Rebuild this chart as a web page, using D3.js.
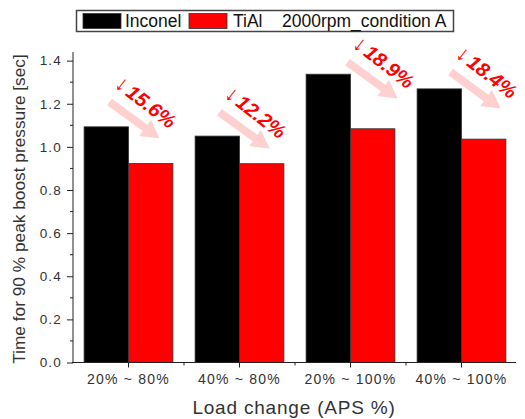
<!DOCTYPE html>
<html>
<head>
<meta charset="utf-8">
<script src="https://cdn.jsdelivr.net/npm/d3@7/dist/d3.min.js"></script>
<style>
  html, body { margin: 0; padding: 0; background: #fff; }
  svg { display: block; font-family: Arial, "Liberation Sans", sans-serif; }
</style>
</head>
<body>
<svg id="chart" width="525" height="419"></svg>
<script>
// Load-change cases on the x axis
const categories = ["20% ~ 80%", "40% ~ 80%", "20% ~ 100%", "40% ~ 100%"];
// Time to reach 90 % of peak boost pressure [sec]
const inconel = [1.093, 1.050, 1.337, 1.269];
const tial = [0.923, 0.922, 1.084, 1.036];
// Reduction of TiAl against Inconel, percent
const reductions = ["15.6%", "12.2%", "18.9%", "18.4%"];
const yTicks = [0.0, 0.2, 0.4, 0.6, 0.8, 1.0, 1.2, 1.4];
const seriesNames = ["Inconel", "TiAl"];
const legendNote = "2000rpm_condition A";

// Where each reduction callout sits: level on the y scale and shift from the group centre
const calloutLevel = [1.208, 1.161, 1.393, 1.347];
const calloutShift = [-19, -20, -3, -11];

const svg = d3.select("#chart");
const axisColor = "#222";
const textColor = "#333";

const x = d3.scaleBand().domain(categories).range([73, 517]).paddingInner(0.2).paddingOuter(0.1);
const y = d3.scaleLinear().domain([0, 1.44]).range([362.5, 52]);
const half = x.bandwidth() / 2;

// Bars
const groups = svg.append("g").selectAll("g").data(categories).join("g");
groups.append("rect")
  .attr("x", d => x(d))
  .attr("y", (d, i) => y(inconel[i]))
  .attr("width", half)
  .attr("height", (d, i) => y(0) - y(inconel[i]))
  .attr("fill", "#000").attr("stroke", "#333").attr("stroke-width", 0.8);
groups.append("rect")
  .attr("x", d => x(d) + half)
  .attr("y", (d, i) => y(tial[i]))
  .attr("width", half)
  .attr("height", (d, i) => y(0) - y(tial[i]))
  .attr("fill", "#ff0000").attr("stroke", "#333").attr("stroke-width", 0.8);

// Y axis with minor ticks
const yAxis = d3.axisLeft(y).tickValues(yTicks).tickFormat(d3.format(".1f")).tickSize(6).tickSizeOuter(0);
const yg = svg.append("g").attr("transform", "translate(73,0)").call(yAxis);
yg.select(".domain").attr("stroke", axisColor).attr("d", `M0,${y(0)}V${y.range()[1]}`);
yg.selectAll(".tick line").attr("stroke", axisColor);
yg.selectAll(".tick text").attr("fill", textColor).attr("font-size", 13.5).attr("letter-spacing", 1.2).attr("x", -11);
const yMinor = d3.range(0.1, 1.44, 0.2);
yg.selectAll(".minor").data(yMinor).join("line").attr("class", "minor")
  .attr("x1", -3).attr("x2", 0).attr("y1", d => y(d)).attr("y2", d => y(d)).attr("stroke", axisColor);

// X axis: major ticks at group centres, minor ticks between groups
const xg = svg.append("g").attr("transform", `translate(0,${y(0)})`);
xg.append("line").attr("x1", 72).attr("x2", 516).attr("stroke", axisColor);
xg.selectAll(".major").data(categories).join("line").attr("class", "major")
  .attr("x1", d => x(d) + half).attr("x2", d => x(d) + half).attr("y1", 0).attr("y2", 5).attr("stroke", axisColor);
xg.selectAll(".minorx").data(categories.slice(1)).join("line").attr("class", "minorx")
  .attr("x1", d => x(d) - x.step() * x.paddingInner() / 2).attr("x2", d => x(d) - x.step() * x.paddingInner() / 2)
  .attr("y1", 0).attr("y2", 3).attr("stroke", axisColor);
xg.selectAll(".lab").data(categories).join("text").attr("class", "lab")
  .attr("x", d => x(d) + half).attr("y", 21)
  .attr("text-anchor", "middle").attr("font-size", 14).attr("letter-spacing", 1.2)
  .attr("fill", textColor).text(d => d);

// Axis titles
svg.append("text").attr("x", 294).attr("y", 414).attr("text-anchor", "middle")
  .attr("font-size", 19).attr("letter-spacing", 0.8).attr("fill", textColor)
  .text("Load change (APS %)");
svg.append("text").attr("transform", "translate(25,209) rotate(-90)").attr("text-anchor", "middle")
  .attr("font-size", 17.3).attr("fill", textColor)
  .text("Time for 90 % peak boost pressure [sec]");

// Reduction callouts: pale arrow plus rotated red label
const arrowLen = 62, shaftHalf = 4, headLen = 18, headHalf = 10;
const arrowPath = `M0,${-shaftHalf}H${arrowLen - headLen}V${-headHalf}L${arrowLen},0L${arrowLen - headLen},${headHalf}V${shaftHalf}H0Z`;
const callouts = svg.append("g").selectAll("g").data(categories).join("g")
  .attr("transform", (d, i) => `translate(${x(d) + half + calloutShift[i]},${y(calloutLevel[i])})`);
callouts.append("path").attr("d", arrowPath).attr("fill", "#ffd0d0").attr("transform", "rotate(36)");
const lbl = callouts.append("text").attr("transform", "translate(4,-16) rotate(38)").attr("fill", "#ff0000");
lbl.append("tspan").attr("font-size", 22).text("\u2193");
lbl.append("tspan").attr("font-size", 20).attr("font-weight", "bold").attr("font-style", "italic")
  .attr("dx", 3).text((d, i) => reductions[i]);

// Legend
const lg = svg.append("g");
lg.append("rect").attr("x", 76.5).attr("y", 10.5).attr("width", 377).attr("height", 21)
  .attr("fill", "#fff").attr("stroke", "#444").attr("stroke-width", 1.5);
lg.append("rect").attr("x", 83).attr("y", 13.5).attr("width", 38).attr("height", 15).attr("fill", "#000").attr("stroke", "#333").attr("stroke-width", 0.8);
lg.append("text").attr("x", 125).attr("y", 26.5).attr("font-size", 17.5).attr("fill", "#111").text(seriesNames[0]);
lg.append("rect").attr("x", 189).attr("y", 13.5).attr("width", 38).attr("height", 15).attr("fill", "#ff0000").attr("stroke", "#333").attr("stroke-width", 0.8);
lg.append("text").attr("x", 233).attr("y", 26.5).attr("font-size", 17.5).attr("fill", "#111").text(seriesNames[1]);
lg.append("text").attr("x", 282).attr("y", 26.5).attr("font-size", 17.5).attr("fill", "#111").text(legendNote);
</script>
</body>
</html>
